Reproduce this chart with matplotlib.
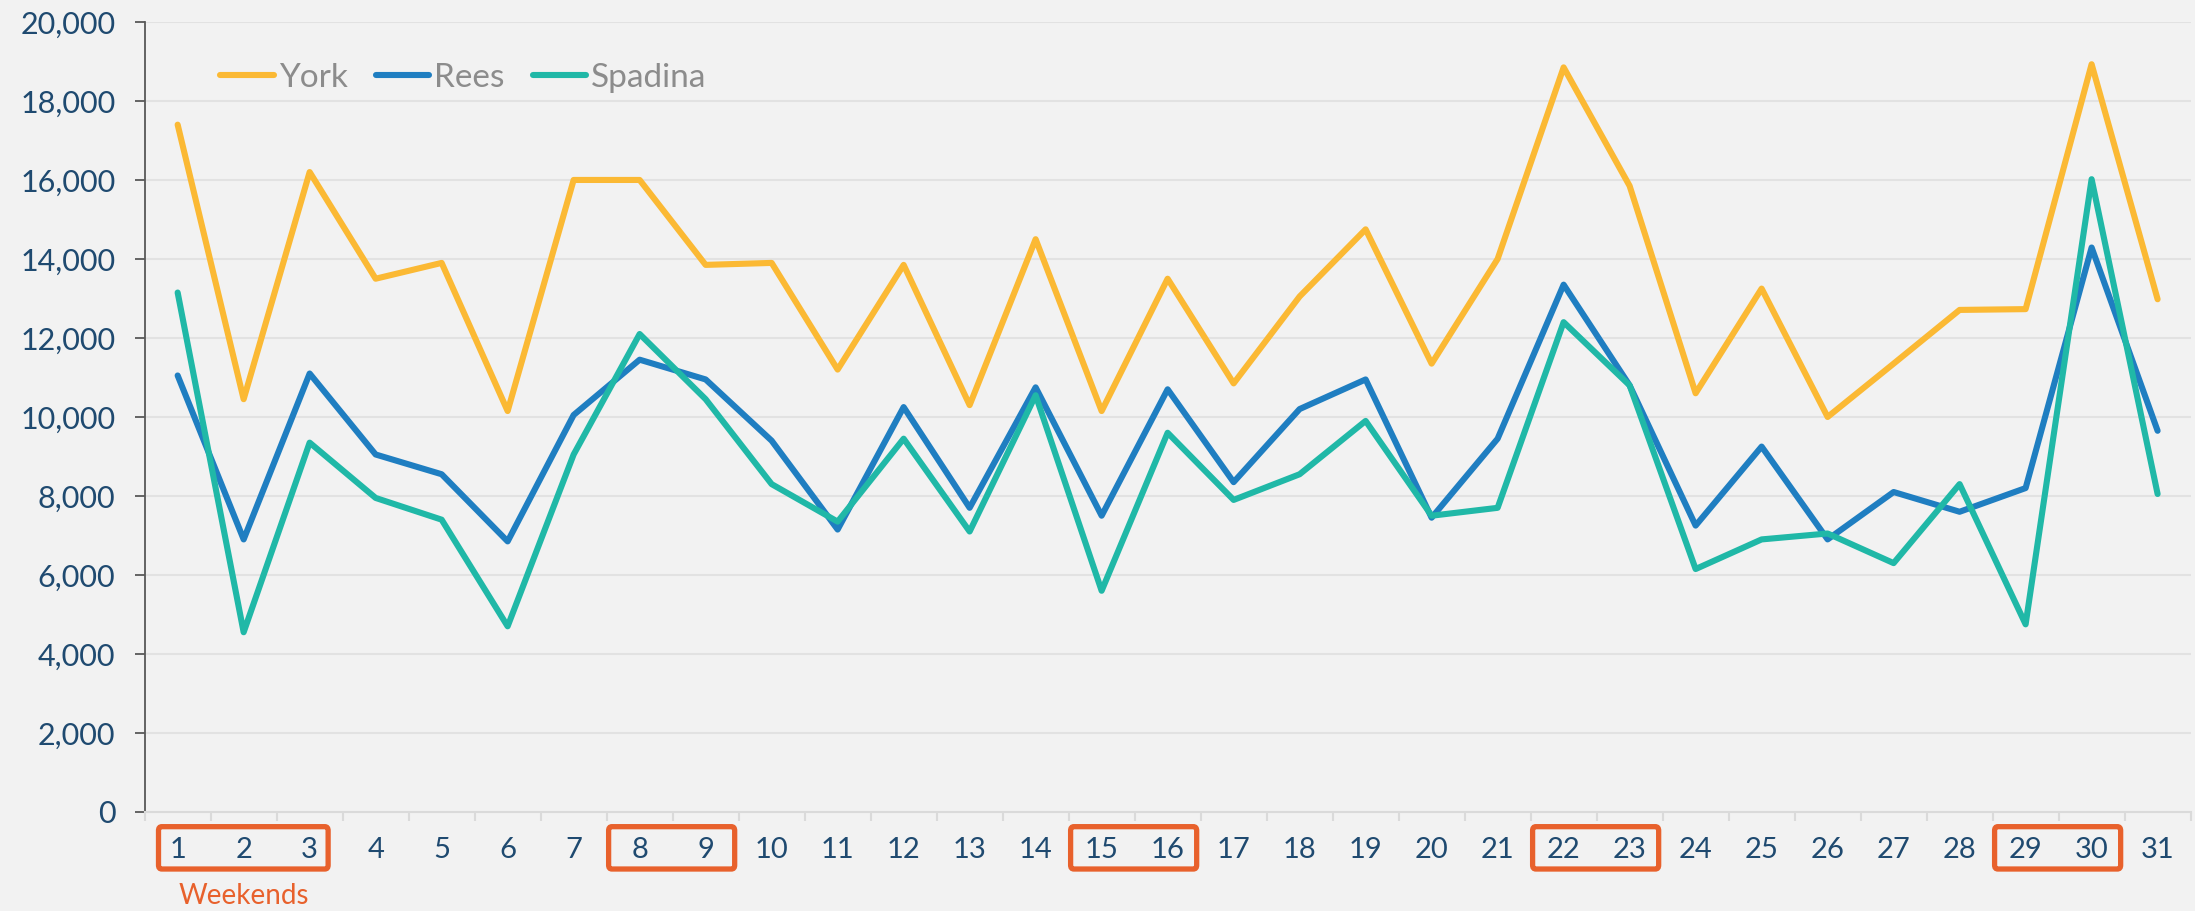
import matplotlib
matplotlib.use("Agg")
import matplotlib.pyplot as plt
import matplotlib.transforms as mtransforms
from matplotlib.patches import FancyBboxPatch
from matplotlib.ticker import FuncFormatter
import numpy as np

days = list(range(1, 32))
york = [17400, 10450, 16200, 13500, 13900, 10150, 16000, 16000, 13850, 13900,
        11200, 13850, 10300, 14500, 10150, 13500, 10850, 13050, 14750, 11350,
        14000, 18850, 15850, 10600, 13250, 10000, 11350, 12710, 12730, 18930, 12980]
rees = [11050, 6900, 11100, 9050, 8550, 6850, 10050, 11450, 10950, 9400,
        7150, 10250, 7700, 10750, 7500, 10700, 8350, 10200, 10950, 7450,
        9450, 13350, 10800, 7250, 9250, 6900, 8100, 7600, 8200, 14290, 9650]
spadina = [13150, 4550, 9350, 7950, 7400, 4700, 9050, 12100, 10450, 8300,
           7350, 9450, 7100, 10550, 5600, 9600, 7900, 8550, 9900, 7500,
           7700, 12400, 10800, 6150, 6900, 7050, 6300, 8300, 4750, 16020, 8050]
weekends = [(1, 3), (8, 9), (15, 16), (22, 23), (29, 30)]

bg = "#F2F2F2"
navy = "#1F4A70"
accent = "#E8612C"
plt.rcParams["font.family"] = ["Lato", "DejaVu Sans"]

fig = plt.figure(figsize=(21.95, 9.11), dpi=100, facecolor=bg)
ax = fig.add_axes([0.0659, 0.1087, 0.9321, 0.8672], facecolor=bg)

for vals, col, name in [(york, "#FBB934", "York"), (rees, "#1F7EC1", "Rees"),
                        (spadina, "#20B8A7", "Spadina")]:
    ax.plot(days, vals, color=col, lw=4.4, label=name,
            solid_joinstyle="round", solid_capstyle="round")

ax.set_xlim(0.5, 31.5)
ax.set_ylim(0, 20000)
ax.set_yticks(np.arange(0, 20001, 2000))
ax.yaxis.set_major_formatter(FuncFormatter(lambda v, p: f"{int(v):,}"))
ax.set_xticks(days)
ax.set_xticks(np.arange(0.5, 32, 1), minor=True)
ax.grid(axis="y", color="#E2E2E2", lw=1.5)
ax.set_axisbelow(True)

for s in ["top", "right"]:
    ax.spines[s].set_visible(False)
ax.spines["left"].set_color("#595959")
ax.spines["left"].set_linewidth(1.3)
ax.spines["bottom"].set_color("#DADADA")
ax.spines["bottom"].set_linewidth(1.5)

ax.tick_params(axis="y", direction="out", length=7, width=1.3, color="#595959",
               labelsize=22, labelcolor=navy, pad=14)
ax.tick_params(axis="x", which="major", length=0, labelsize=21, labelcolor=navy, pad=18)
ax.tick_params(axis="x", which="minor", length=6.5, width=1.5, color="#DADADA")

leg = ax.legend(loc="center left", bbox_to_anchor=(0.037, 0.9295), ncol=3,
                frameon=False, fontsize=24, handlelength=1.6, handletextpad=0.15,
                columnspacing=0.85, borderpad=0, borderaxespad=0)
for t in leg.get_texts():
    t.set_color("#8C8C8C")

# weekend boxes around tick labels
trans = mtransforms.blended_transform_factory(ax.transData, ax.transAxes)
for k, (a, b) in enumerate(weekends):
    lp, rp = (0.29, 0.28) if k == 0 else (0.47, 0.44)
    box = FancyBboxPatch((a - lp, -0.0722), (b + rp) - (a - lp), 0.0536,
                         boxstyle="round,pad=0,rounding_size=0.05",
                         transform=trans, fill=False, ec=accent, lw=3.8,
                         clip_on=False, mutation_aspect=0.1)
    ax.add_patch(box)

ax.text(2, -0.106, "Weekends", transform=trans, ha="center", va="center",
        fontsize=20, color=accent)

fig.savefig("out.png", dpi=100, facecolor=bg)
